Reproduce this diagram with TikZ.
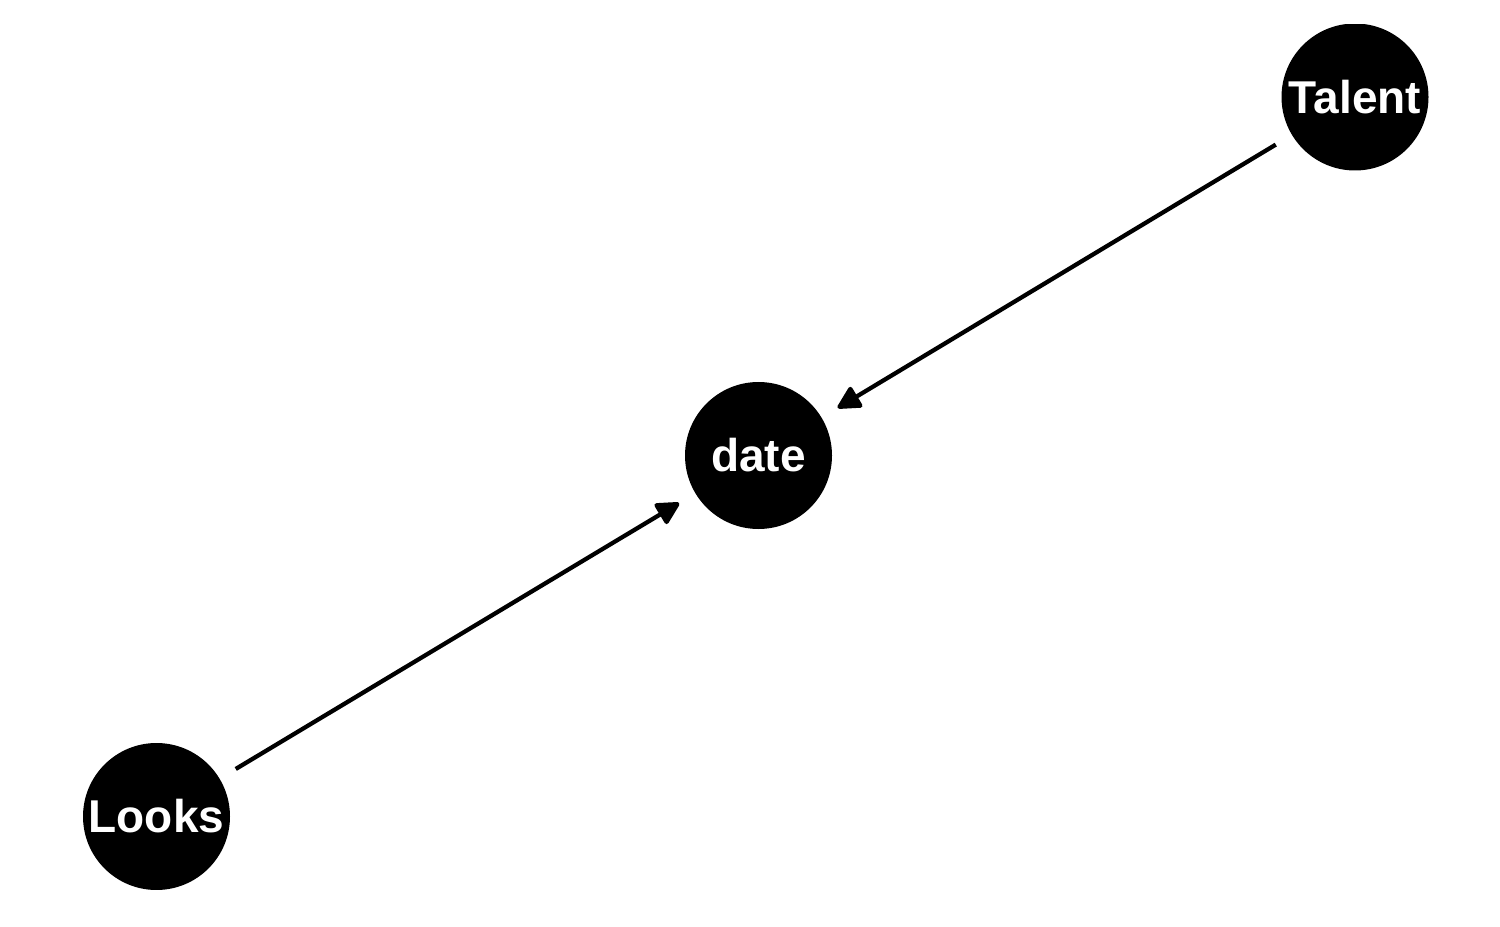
\documentclass[tikz,border=0pt]{standalone}
\usepackage{fontspec}
\setmainfont{Liberation Sans}
\usetikzlibrary{arrows.meta}
\begin{document}
\begin{tikzpicture}[x=0.75pt,y=-0.75pt,
  dagnode/.style={circle,fill=black,inner sep=0pt,minimum size=110.25pt,
    text=white,font=\fontsize{34.5}{36}\selectfont\bfseries},
  dagedge/.style={line width=3.2pt,shorten >=14pt,shorten <=14pt,
    -{Triangle[length=19pt,width=19pt,round]}}]
\useasboundingbox (0,0) rectangle (1500,927);
\begin{scope}
\clip (0,25) rectangle (1500,889);
\node[dagnode] (date) at (758.5,455.5) {date};
\node[dagnode] (Talent) at (1355,97) {Talent};
\node[dagnode] (Looks) at (156.5,816.5) {Looks};
\end{scope}
\draw[dagedge] (Talent) -- (date);
\draw[dagedge] (Looks) -- (date);
\end{tikzpicture}
\end{document}
